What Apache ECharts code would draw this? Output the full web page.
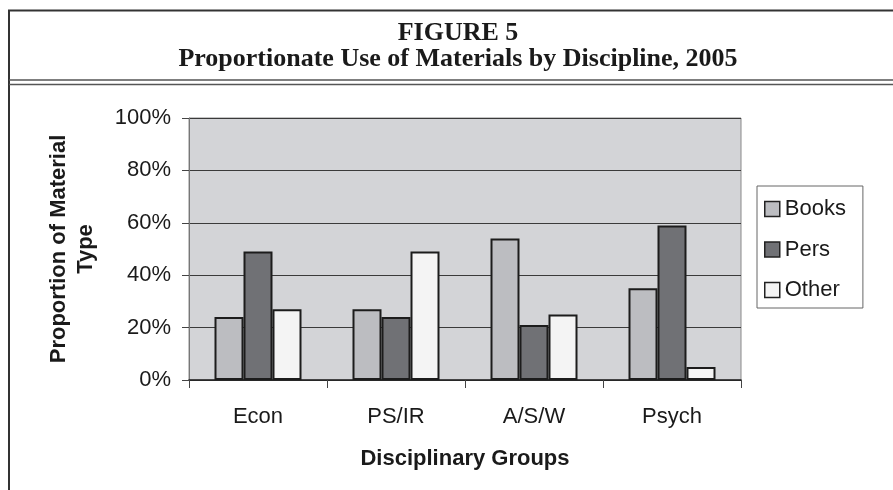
<!DOCTYPE html>
<html>
<head>
<meta charset="utf-8">
<script src="https://cdn.jsdelivr.net/npm/echarts@6/dist/echarts.min.js"></script>
<style>
  html, body { margin: 0; padding: 0; background: #fff; }
  #main { width: 893px; height: 490px; }
</style>
</head>
<body>
<div id="main"></div>
<script>
  var categories = ['Econ', 'PS/IR', 'A/S/W', 'Psych'];
  var books = [24, 27, 54, 35];
  var pers = [49, 24, 21, 59];
  var other = [27, 49, 25, 5];
  var yTicks = [0, 20, 40, 60, 80, 100];

  var sans = 'Liberation Sans, Arial, sans-serif';
  var serif = 'Liberation Serif, Times New Roman, serif';

  var myChart = echarts.init(document.getElementById('main'));

  function barSeries(name, values, color) {
    return {
      name: name,
      type: 'bar',
      data: values,
      barWidth: 29,
      barGap: '0%',
      itemStyle: {
        color: color,
        borderColor: '#1c1c1c',
        borderWidth: 2
      }
    };
  }

  myChart.setOption({
    backgroundColor: '#fff',
    animation: false,
    title: {
      text: 'FIGURE 5\nProportionate Use of Materials by Discipline, 2005',
      left: 453,
      top: 15,
      textAlign: 'center',
      textStyle: {
        fontFamily: serif,
        fontWeight: 'bold',
        fontSize: 26,
        lineHeight: 26,
        color: '#1a1a1a'
      }
    },
    // page frame: top rule, left rule and the double rule under the title
    graphic: [
      { type: 'line', shape: { x1: 8, y1: 10.5, x2: 900, y2: 10.5 }, style: { stroke: '#333', lineWidth: 2 } },
      { type: 'line', shape: { x1: 9, y1: 10, x2: 9, y2: 495 }, style: { stroke: '#333', lineWidth: 2 } },
      { type: 'line', shape: { x1: 9, y1: 80, x2: 900, y2: 80 }, style: { stroke: '#555', lineWidth: 1.5 } },
      { type: 'line', shape: { x1: 9, y1: 84.5, x2: 900, y2: 84.5 }, style: { stroke: '#555', lineWidth: 1.5 } }
    ],
    legend: {
      orient: 'vertical',
      left: 757,
      top: 186,
      padding: [12, 17, 7, 7],
      itemGap: 18.5,
      itemWidth: 15,
      itemHeight: 15,
      icon: 'rect',
      borderColor: '#666',
      borderWidth: 1,
      itemStyle: { borderColor: '#222', borderWidth: 1.5 },
      textStyle: { fontFamily: sans, fontSize: 22, color: '#1a1a1a' },
      data: ['Books', 'Pers', 'Other']
    },
    grid: {
      left: 189,
      right: 152,
      top: 118,
      bottom: 110,
      show: true,
      backgroundColor: '#d3d4d7',
      borderColor: '#8a8a8a',
      borderWidth: 1
    },
    xAxis: {
      type: 'category',
      data: categories,
      name: 'Disciplinary Groups',
      nameLocation: 'middle',
      nameGap: 68,
      nameTextStyle: { fontFamily: sans, fontWeight: 'bold', fontSize: 22, color: '#1a1a1a' },
      axisLine: { lineStyle: { color: '#222', width: 1.5 } },
      axisTick: { show: true, length: 8, lineStyle: { color: '#444' } },
      axisLabel: { margin: 26, fontFamily: sans, fontSize: 22, color: '#1a1a1a' }
    },
    yAxis: {
      type: 'value',
      min: yTicks[0],
      max: yTicks[yTicks.length - 1],
      interval: 20,
      name: 'Proportion of Material\nType',
      nameLocation: 'middle',
      nameRotate: 90,
      nameGap: 90,
      nameTextStyle: { fontFamily: sans, fontWeight: 'bold', fontSize: 22, lineHeight: 27, color: '#1a1a1a' },
      axisLine: { show: true, lineStyle: { color: '#777', width: 1 } },
      axisTick: { show: true, length: 7, lineStyle: { color: '#444' } },
      axisLabel: {
        margin: 18,
        fontFamily: sans,
        fontSize: 22,
        color: '#1a1a1a',
        formatter: function (v) { return v + '%'; }
      },
      splitLine: { lineStyle: { color: '#3a3a3a', width: 1 } }
    },
    series: [
      barSeries('Books', books, '#bcbdc1'),
      barSeries('Pers', pers, '#707175'),
      barSeries('Other', other, '#f4f4f4')
    ]
  });
</script>
</body>
</html>
